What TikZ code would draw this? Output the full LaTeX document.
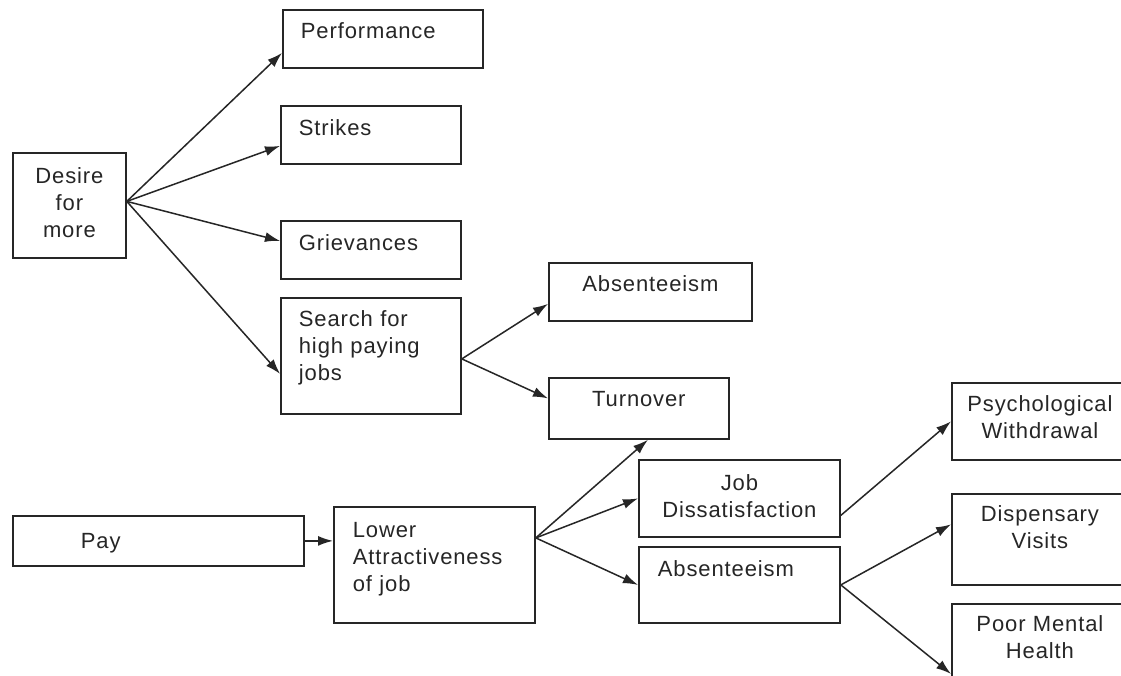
\documentclass[tikz,border=0pt]{standalone}
\usepackage{fontspec}
\setmainfont{Liberation Sans}[LetterSpace=4]
\usepackage{tikz}
\usetikzlibrary{arrows.meta}

\begin{document}
\begin{tikzpicture}
  [x=1pt,y=-1pt,
   every node/.style={font=\fontsize{22}{27}\selectfont,text=black!85},
   box/.style={draw=black!85,line width=1.8pt,anchor=north west,inner ysep=0pt},
   lbox/.style={box,align=left,inner xsep=18pt},
   cbox/.style={box,align=center,inner xsep=4pt},
   link/.style={draw=black!85,line width=1.5pt,-{Latex[length=15pt,width=10pt]}}]
  \useasboundingbox[fill=white] (0,0) rectangle (1121,676);
  \clip (0,0) rectangle (1121,676);
  % upper tree
  \node[cbox,text width=105pt,text height=31pt,text depth=74pt] (desire) at (12,152) {Desire\\for\\more};
  \node[lbox,text width=164pt,text height=29pt,text depth=29pt] (perf) at (282,9) {Performance};
  \node[lbox,text width=144pt,text height=30pt,text depth=28pt] (strikes) at (280,105) {Strikes};
  \node[lbox,text width=144pt,text height=30pt,text depth=28pt] (griev) at (280,220) {Grievances};
  \node[lbox,text width=144pt,text height=29pt,text depth=87pt] (search) at (280,297) {Search for\\high paying\\jobs};
  \node[cbox,text width=195pt,text height=29pt,text depth=29pt] (absA) at (548,262) {Absenteeism};
  \node[cbox,text width=172pt,text height=29pt,text depth=32pt] (turn) at (548,377) {Turnover};
  % lower tree
  \node[box,align=left,inner xsep=68pt,text width=155pt,text height=33pt,text depth=17pt] (pay) at (12,515) {Pay};
  \node[lbox,inner xsep=19pt,text width=163pt,text height=31pt,text depth=85pt] (lower) at (333,506) {Lower\\Attractiveness\\of job};
  \node[cbox,text width=193pt,text height=31pt,text depth=46pt] (jobd) at (638,459) {Job\\Dissatisfaction};
  \node[lbox,inner xsep=19pt,text width=163pt,text height=30pt,text depth=46pt] (absB) at (638,546) {Absenteeism};
  \node[cbox,text width=168pt,text height=29pt,text depth=48pt] (psych) at (951,382) {Psychological\\Withdrawal};
  \node[cbox,text width=168pt,text height=28pt,text depth=63pt] (disp) at (951,493) {Dispensary\\Visits};
  \node[cbox,text width=168pt,text height=28pt,text depth=62pt] (poor) at (951,603) {Poor Mental\\Health};

  \draw[link] ([yshift=4pt]desire.east) -- ([yshift=-14pt]perf.west);
  \draw[link] ([yshift=4pt]desire.east) -- ([yshift=-11pt]strikes.west);
  \draw[link] ([yshift=4pt]desire.east) -- ([yshift=9pt]griev.west);
  \draw[link] ([yshift=4pt]desire.east) -- ([yshift=-18pt]search.west);
  \draw[link] ([yshift=-3pt]search.east) -- ([yshift=-12pt]absA.west);
  \draw[link] ([yshift=-3pt]search.east) -- ([yshift=10pt]turn.west);
  \draw[link] (pay.east) -- (pay.east -| lower.west);
  \draw[link] ([yshift=27pt]lower.east) -- ([xshift=9pt]turn.south);
  \draw[link] ([yshift=27pt]lower.east) -- (jobd.west);
  \draw[link] ([yshift=27pt]lower.east) -- (absB.west);
  \draw[link] ([yshift=-17pt]jobd.east) -- (psych.west);
  \draw[link] (absB.east) -- ([yshift=15pt]disp.west);
  \draw[link] (absB.east) -- ([yshift=-25pt]poor.west);
\end{tikzpicture}
\end{document}
